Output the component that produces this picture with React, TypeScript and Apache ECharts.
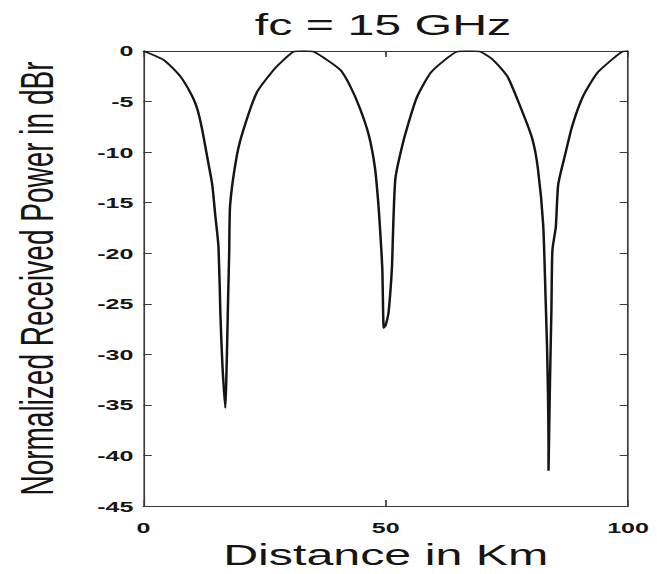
import React, { useEffect, useRef } from "react";
import * as echarts from "echarts";

// Page size and the horizontal stretch the figure is drawn with
const PAGE_W = 657;
const PAGE_H = 574;
const STRETCH = 1.6675;
const BASE_W = PAGE_W / STRETCH;

const titleText = "fc = 15 GHz";
const xName = "Distance in Km";
const yName = "Normalized Received Power in dBr";

// Distance (km) and normalized received power (dBr) along the path
const distanceKm = [
  0, 0.4, 4.2, 7.6, 10.0, 11.1, 12.1, 13.1, 14.2, 14.8, 15.5, 15.9, 16.3, 16.9,
  17.1, 17.3, 17.5, 17.7, 17.9, 19.3, 20.7, 23.4, 26.9, 28.9, 31.0, 33.0,
  35.1, 40.6, 42.7, 44.7, 46.5, 47.8, 48.5, 48.9, 49.3, 49.6, 50.0, 50.6,
  51.3, 51.5, 52.0, 53.4, 55.1, 56.5, 59.2, 61.9, 64.7, 67.1, 69.5, 72.2,
  75.1, 77.7, 80.2, 81.4, 82.5, 83.0, 83.3, 83.5, 83.6, 83.6, 83.9, 84.2,
  84.4, 85.1, 85.6, 87.0, 88.5, 90.7, 93.6, 96.3, 98.8, 100,
];
const powerDbr = [
  0, -0.07, -0.9, -2.5, -4.4, -5.7, -7.7, -10.3, -13.2, -16.1, -19.4, -26.2, -31.0, -35.3,
  -32.6, -28.5, -24.0, -20.0, -15.2, -10.3, -7.7, -4.1, -1.85, -0.9, -0.07, 0,
  -0.07, -1.85, -3.5, -5.7, -8.3, -11.6, -15.2, -18.1, -21.5, -27.4, -27.1, -25.8,
  -21.3, -18.1, -12.6, -9.4, -6.5, -4.5, -2.2, -1.0, -0.07, 0, -0.07, -0.9,
  -2.5, -5.4, -8.6, -11.6, -17.2, -24.5, -29.4, -34.2, -38.6, -41.5, -32.7, -25.5,
  -19.7, -17.4, -13.2, -10.3, -7.4, -4.5, -2.2, -1.0, -0.07, 0,
];

const xTicks = { min: 0, max: 100, step: 50 };
const yTicks = { min: -45, max: 0, step: 5 };

const INK = "#151515";
const FRAME = "#3a3a3a";
const FONT = "'Liberation Sans', Arial, sans-serif";

export default function App() {
  const ref = useRef<HTMLDivElement>(null);

  useEffect(() => {
    if (!ref.current) return;
    const chart = echarts.init(ref.current, undefined, { renderer: "svg" });

    const points = distanceKm.map((d, i) => [d, powerDbr[i]]);

    const tickLabel = {
      color: INK,
      fontFamily: FONT,
      fontWeight: "bold" as const,
      fontSize: 15,
    };

    // frame lines stay on the grid edges, ticks point into the plot
    const frameLine = { show: true, onZero: false, lineStyle: { color: FRAME, width: 1 } };
    const xTick = { show: true, inside: true, length: 6, lineStyle: { color: FRAME } };
    const yTick = { show: true, inside: true, length: 5, lineStyle: { color: FRAME } };

    const plotLeft = 143 / STRETCH;
    const plotRight = BASE_W - 628 / STRETCH;

    chart.setOption({
      animation: false,
      backgroundColor: "#ffffff",
      title: {
        text: titleText,
        left: (143 + 628) / 2 / STRETCH - 1.5,
        textAlign: "center",
        top: 10,
        padding: 0,
        textStyle: {
          color: INK,
          fontFamily: FONT,
          fontWeight: "normal",
          fontSize: 29,
        },
      },
      grid: {
        left: plotLeft,
        right: plotRight,
        top: 51,
        bottom: PAGE_H - 514,
        containLabel: false,
      },
      xAxis: [
        {
          type: "value",
          position: "bottom",
          min: xTicks.min,
          max: xTicks.max,
          interval: xTicks.step,
          name: xName,
          nameLocation: "middle",
          nameGap: 24,
          nameTextStyle: {
            color: INK,
            fontFamily: FONT,
            fontSize: 29,
          },
          axisLine: frameLine,
          axisTick: xTick,
          axisLabel: { ...tickLabel, margin: 14 },
          splitLine: { show: false },
        },
        {
          type: "value",
          position: "top",
          min: xTicks.min,
          max: xTicks.max,
          interval: xTicks.step,
          axisLine: frameLine,
          axisTick: xTick,
          axisLabel: { show: false },
          splitLine: { show: false },
        },
      ],
      yAxis: [
        {
          type: "value",
          position: "left",
          min: yTicks.min,
          max: yTicks.max,
          interval: yTicks.step,
          name: yName,
          nameLocation: "middle",
          nameGap: 50,
          nameTextStyle: {
            color: INK,
            fontFamily: FONT,
            fontSize: 28,
          },
          axisLine: frameLine,
          axisTick: yTick,
          axisLabel: { ...tickLabel, margin: 6 },
          splitLine: { show: false },
        },
        {
          type: "value",
          position: "right",
          min: yTicks.min,
          max: yTicks.max,
          interval: yTicks.step,
          axisLine: frameLine,
          axisTick: yTick,
          axisLabel: { show: false },
          splitLine: { show: false },
        },
      ],
      series: [
        {
          type: "line",
          xAxisIndex: 0,
          yAxisIndex: 0,
          data: points,
          showSymbol: false,
          smooth: 0.2,
          lineStyle: { color: INK, width: 1.5 },
        },
      ],
    });

    return () => chart.dispose();
  }, []);

  return (
    <div
      style={{
        position: "fixed",
        left: 0,
        top: 0,
        width: PAGE_W,
        height: PAGE_H,
        overflow: "hidden",
        background: "#ffffff",
      }}
    >
      <div
        ref={ref}
        style={{
          width: BASE_W,
          height: PAGE_H,
          transform: `scaleX(${STRETCH})`,
          transformOrigin: "0 0",
        }}
      />
    </div>
  );
}
